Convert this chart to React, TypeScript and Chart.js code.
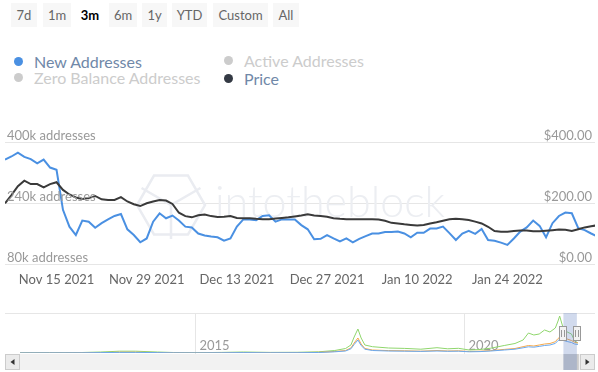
import React, { useEffect, useRef } from "react";
import { Chart, registerables } from "chart.js";

Chart.register(...registerables);

// ---------- Main chart data (daily, starting Nov 7 2021) ----------
const newAddressesK = [
  354, 362, 372, 361, 355, 344, 354, 333, 327, 222,
  178, 156, 194, 191, 175, 187, 197, 206, 211, 171,
  156, 137, 147, 191, 213, 200, 207, 194, 178, 176,
  160, 155, 152, 150, 141, 147, 178, 197, 197, 195,
  206, 208, 191, 197, 197, 197, 182, 171, 145, 146,
  156, 147, 139, 147, 137, 146, 153, 160, 160, 164,
  164, 165, 160, 150, 162, 162, 173, 173, 178, 161,
  143, 160, 167, 159, 172, 143, 141, 136, 130, 147,
  165, 176, 194, 180, 150, 187, 206, 215, 213, 174,
  169, 160, 152,
];
const priceUsd = [
  199, 226, 255, 273, 262, 262, 251, 262, 268, 243,
  228, 218, 213, 216, 223, 212, 210, 210, 219, 205,
  196, 190, 199, 205, 210, 208, 197, 168, 157, 153,
  160, 162, 157, 154, 155, 157, 151, 150, 150, 148,
  147, 147, 149, 151, 153, 156, 159, 163, 159, 157,
  155, 150, 148, 147, 147, 147, 147, 147, 146, 142,
  135, 133, 130, 128, 126, 128, 133, 137, 142, 147,
  148, 147, 144, 139, 133, 122, 108, 106, 106, 108,
  110, 110, 107, 107, 109, 111, 113, 112, 108, 114,
  120, 124, 127,
];
const xTickDays = [8, 22, 36, 50, 64, 78];
const xTickLabels = ["Nov 15 2021", "Nov 29 2021", "Dec 13 2021", "Dec 27 2021", "Jan 10 2022", "Jan 24 2022"];
const leftTicksK = [80, 240, 400];
const rightTicksUsd = [0, 200, 400];

// ---------- Navigator data ----------
const navYears = [
  2011.75, 2012.3, 2012.9, 2013.25, 2013.6, 2013.9, 2014.3, 2014.6, 2015.0, 2015.5,
  2015.9, 2016.4, 2016.9, 2017.3, 2017.6, 2017.8, 2017.9, 2017.96, 2018.03, 2018.09,
  2018.16, 2018.3, 2018.6, 2018.9, 2019.2, 2019.5, 2019.7, 2019.9, 2020.1, 2020.3,
  2020.5, 2020.75, 2020.95, 2021.1, 2021.2, 2021.3, 2021.4, 2021.5, 2021.6, 2021.7,
  2021.75, 2021.78, 2021.84, 2021.92, 2022.0, 2022.06, 2022.12,
];
const navGreen = [
  0.2, 0.3, 0.5, 1.0, 1.8, 1.8, 1.0, 0.5, 0.3, 0.6,
  1.0, 0.6, 0.7, 1.2, 2.5, 4.5, 8, 16, 24, 15,
  8, 6.3, 5.0, 4.6, 3.8, 5.3, 4.2, 4.7, 3.0, 3.5,
  4.8, 7.5, 9.5, 13, 20, 18, 19, 23, 21, 25,
  32, 37, 26, 21, 19, 12, 10,
];
const navOrange = [
  0.1, 0.2, 0.3, 0.5, 0.8, 0.8, 0.5, 0.3, 0.2, 0.3,
  0.5, 0.3, 0.4, 0.7, 1.5, 2.5, 5, 10, 15, 9,
  4.5, 3, 2.4, 2.2, 1.8, 2.5, 2.0, 2.2, 1.5, 1.8,
  2.4, 3.6, 4.5, 6.3, 7.5, 7.0, 8.0, 9.0, 9.5, 11.3,
  14.5, 15.7, 15, 14, 12.5, 10.7, 10,
];
const navBlue = [
  0.1, 0.15, 0.2, 0.4, 0.6, 0.6, 0.4, 0.2, 0.15, 0.25,
  0.4, 0.25, 0.3, 0.5, 1.2, 2.0, 4.2, 8.5, 13, 7.5,
  3.8, 2.5, 2.0, 1.8, 1.6, 2.0, 1.7, 1.8, 1.2, 1.4,
  2.0, 3.0, 3.8, 5.2, 6.2, 5.8, 6.6, 7.5, 8.0, 9.6,
  12.5, 13.5, 12.8, 11.5, 10.5, 9, 8.5,
];
const navGridYears = [2015, 2020];
const navRange = [2021.85, 2022.1];

const rangeButtons = ["7d", "1m", "3m", "6m", "1y", "YTD", "Custom", "All"];
const selectedButton = "3m";

const legendItems = [
  { name: "New Addresses", color: "#4a90e2", active: true },
  { name: "Active Addresses", color: "#cccccc", active: false },
  { name: "Zero Balance Addresses", color: "#cccccc", active: false },
  { name: "Price", color: "#343a44", active: true },
];

// layout (pixels)
const buttonBoxes = [
  [11, 26], [43, 28], [78, 24], [109, 28], [142, 25], [172, 35], [213, 55], [273, 26],
];
const legendPos = [
  [19, 61], [229, 60], [19, 77], [229, 78],
];

const FONT = "Lato, 'Open Sans', sans-serif";

const axisLabelPlugin = {
  id: "axisLabels",
  afterDraw(chart: any) {
    const { ctx, chartArea, scales } = chart;
    ctx.save();
    ctx.fillStyle = "#999";
    ctx.font = `13px ${FONT}`;
    ctx.textBaseline = "alphabetic";
    ctx.textAlign = "left";
    leftTicksK.forEach((v) => {
      ctx.fillText(`${v}k addresses`, chartArea.left + 2, scales.y.getPixelForValue(v) - 2);
    });
    ctx.textAlign = "right";
    rightTicksUsd.forEach((v) => {
      ctx.fillText(`$${v.toFixed(2)}`, chartArea.right - 3, scales.y1.getPixelForValue(v) - 2);
    });
    ctx.fillStyle = "#666";
    ctx.textAlign = "center";
    ctx.textBaseline = "middle";
    xTickDays.forEach((d, i) => {
      ctx.fillText(xTickLabels[i], scales.x.getPixelForValue(d), chartArea.bottom + 16);
    });
    ctx.restore();
  },
};

const watermarkPlugin = {
  id: "watermark",
  beforeDatasetsDraw(chart: any) {
    const { ctx, chartArea } = chart;
    ctx.save();
    const cx = chartArea.left + 166;
    const cy = chartArea.top + 63;
    const r = 34;
    ctx.strokeStyle = "#eaecf1";
    ctx.lineWidth = 2.5;
    ctx.beginPath();
    for (let i = 0; i < 6; i++) {
      const a = Math.PI / 6 + (i * Math.PI) / 3 - Math.PI / 2;
      const px = cx + r * Math.cos(a);
      const py = cy + r * Math.sin(a);
      if (i === 0) ctx.moveTo(px, py);
      else ctx.lineTo(px, py);
    }
    ctx.closePath();
    ctx.stroke();
    ctx.beginPath();
    ctx.moveTo(cx - r * 0.866, cy - r * 0.5);
    ctx.lineTo(cx, cy);
    ctx.lineTo(cx + r * 0.866, cy - r * 0.5);
    ctx.moveTo(cx, cy);
    ctx.lineTo(cx, cy + r);
    ctx.stroke();
    ctx.fillStyle = "#eceef2";
    ctx.font = `300 43px ${FONT}`;
    ctx.textBaseline = "alphabetic";
    ctx.textAlign = "left";
    ctx.fillText("intotheblock", chartArea.left + 210, chartArea.top + 75);
    ctx.restore();
  },
};

const navigatorPlugin = {
  id: "navigatorDeco",
  beforeDatasetsDraw(chart: any) {
    const { ctx, chartArea, scales } = chart;
    const x = scales.x;
    ctx.save();
    ctx.strokeStyle = "#e6e6e6";
    ctx.lineWidth = 1;
    ctx.beginPath();
    ctx.moveTo(chartArea.left, chartArea.top + 0.5);
    ctx.lineTo(chartArea.right + 2, chartArea.top + 0.5);
    ctx.stroke();
    ctx.fillStyle = "#999";
    ctx.font = `13px ${FONT}`;
    ctx.textBaseline = "alphabetic";
    navGridYears.forEach((yr) => {
      const px = Math.round(x.getPixelForValue(yr)) + 0.5;
      ctx.beginPath();
      ctx.moveTo(px, chartArea.top);
      ctx.lineTo(px, chartArea.bottom + 1);
      ctx.stroke();
      ctx.fillText(String(yr), px + 4, chartArea.bottom - 3);
    });
    ctx.restore();
  },
  afterDatasetsDraw(chart: any) {
    const { ctx, chartArea, scales } = chart;
    const x = scales.x;
    const x0 = x.getPixelForValue(navRange[0]);
    const x1 = x.getPixelForValue(navRange[1]);
    const sbTop = chartArea.bottom + 1;
    const sbH = 16;
    ctx.save();
    ctx.fillStyle = "#f2f2f2";
    ctx.fillRect(chartArea.left, sbTop, chartArea.right - chartArea.left, sbH);
    ctx.fillStyle = "#cccccc";
    ctx.fillRect(x0, sbTop, x1 - x0 + 2, sbH);
    const drawBtn = (bx: number, dir: number) => {
      ctx.fillStyle = "#ebebeb";
      ctx.fillRect(bx, sbTop, 15, sbH);
      ctx.strokeStyle = "#cccccc";
      ctx.lineWidth = 1;
      ctx.strokeRect(bx + 0.5, sbTop + 0.5, 14, sbH - 1);
      ctx.fillStyle = "#333";
      ctx.beginPath();
      const ax = bx + 7.5;
      const ay = sbTop + sbH / 2;
      ctx.moveTo(ax - 2 * dir, ay);
      ctx.lineTo(ax + 2 * dir, ay - 3);
      ctx.lineTo(ax + 2 * dir, ay + 3);
      ctx.closePath();
      ctx.fill();
    };
    drawBtn(chartArea.left, 1);
    drawBtn(chartArea.right - 13, -1);
    ctx.fillStyle = "rgba(102,133,194,0.3)";
    ctx.fillRect(x0, chartArea.top, x1 - x0, sbTop + sbH - chartArea.top);
    const hy = chartArea.top + 13;
    [x0, x1].forEach((hx) => {
      const rx = Math.round(hx);
      ctx.fillStyle = "#f2f2f2";
      ctx.strokeStyle = "#999";
      ctx.lineWidth = 1;
      ctx.fillRect(rx - 3.5, hy, 7, 15);
      ctx.strokeRect(rx - 3.5, hy + 0.5, 7, 14);
      ctx.beginPath();
      ctx.moveTo(rx - 1.5, hy + 4);
      ctx.lineTo(rx - 1.5, hy + 11);
      ctx.moveTo(rx + 1.5, hy + 4);
      ctx.lineTo(rx + 1.5, hy + 11);
      ctx.stroke();
    });
    ctx.restore();
  },
};

export default function App() {
  const mainRef = useRef<HTMLCanvasElement>(null);
  const navRef = useRef<HTMLCanvasElement>(null);

  useEffect(() => {
    document.body.style.margin = "0";
    const main = new Chart(mainRef.current!, {
      type: "line",
      data: {
        datasets: [
          {
            label: "Price",
            data: priceUsd.map((v, i) => ({ x: i, y: v })),
            borderColor: "#3a3a3a",
            borderWidth: 2,
            pointRadius: 0,
            yAxisID: "y1",
            clip: 0,
          },
          {
            label: "New Addresses",
            data: newAddressesK.map((v, i) => ({ x: i, y: v })),
            borderColor: "#4a90e2",
            borderWidth: 2,
            pointRadius: 0,
            yAxisID: "y",
            clip: 0,
          },
        ],
      },
      options: {
        animation: false,
        responsive: false,
        layout: { padding: { left: 5, right: 3, top: 22, bottom: 26 } },
        plugins: { legend: { display: false }, tooltip: { enabled: false } },
        scales: {
          x: {
            type: "linear",
            min: 0,
            max: 91.6,
            display: false,
          },
          y: {
            position: "left",
            min: 80,
            max: 400,
            afterBuildTicks: (s: any) => {
              s.ticks = leftTicksK.map((v) => ({ value: v }));
            },
            grid: { color: "#e6e6e6", drawTicks: false },
            border: { display: false },
            ticks: { display: false },
          },
          y1: {
            position: "right",
            min: 0,
            max: 400,
            grid: { display: false, drawTicks: false },
            border: { display: false },
            ticks: { display: false },
          },
        },
      },
      plugins: [watermarkPlugin, axisLabelPlugin],
    } as any);

    const mk = (vals: number[]) => vals.map((v, i) => ({ x: navYears[i], y: v }));
    const nav = new Chart(navRef.current!, {
      type: "line",
      data: {
        datasets: [
          { data: mk(navBlue), borderColor: "#6aa8ee", borderWidth: 1, pointRadius: 0 },
          { data: mk(navOrange), borderColor: "#f5a84a", borderWidth: 1, pointRadius: 0 },
          { data: mk(navGreen), borderColor: "#8fd66c", borderWidth: 1, pointRadius: 0 },
        ],
      },
      options: {
        animation: false,
        responsive: false,
        layout: { padding: { left: 5, right: 5, top: 13, bottom: 19 } },
        plugins: { legend: { display: false }, tooltip: { enabled: false } },
        scales: {
          x: { type: "linear", min: 2011.47, max: 2022.4, display: false },
          y: { min: 0, max: 40, display: false },
        },
      },
      plugins: [navigatorPlugin],
    } as any);

    return () => {
      main.destroy();
      nav.destroy();
    };
  }, []);

  return (
    <div
      style={{
        position: "absolute",
        left: 0,
        top: 0,
        width: 598,
        height: 372,
        background: "#fff",
        fontFamily: FONT,
        overflow: "hidden",
      }}
    >
      {rangeButtons.map((b, i) => (
        <div
          key={b}
          style={{
            position: "absolute",
            left: buttonBoxes[i][0],
            width: buttonBoxes[i][1],
            top: 3,
            height: 24,
            lineHeight: "24px",
            textAlign: "center",
            fontSize: 13,
            background: b === selectedButton ? "#fff" : "#f7f7f7",
            color: b === selectedButton ? "#000" : "#666",
            fontWeight: b === selectedButton ? 700 : 400,
          }}
        >
          {b}
        </div>
      ))}
      {legendItems.map((it, i) => (
        <div
          key={it.name}
          style={{
            position: "absolute",
            left: legendPos[i][0] - 5,
            top: legendPos[i][1] - 10,
            height: 20,
            display: "flex",
            alignItems: "center",
            whiteSpace: "nowrap",
          }}
        >
          <span
            style={{
              display: "inline-block",
              width: 9,
              height: 9,
              borderRadius: "50%",
              background: it.color,
              marginRight: 11,
            }}
          />
          <span style={{ fontSize: 16, color: it.active ? "#7088a8" : "#cccccc" }}>{it.name}</span>
        </div>
      ))}
      <canvas
        ref={mainRef}
        width={598}
        height={170}
        style={{ position: "absolute", left: 0, top: 120, width: 598, height: 170 }}
      />
      <canvas
        ref={navRef}
        width={598}
        height={72}
        style={{ position: "absolute", left: 0, top: 300, width: 598, height: 72 }}
      />
    </div>
  );
}
